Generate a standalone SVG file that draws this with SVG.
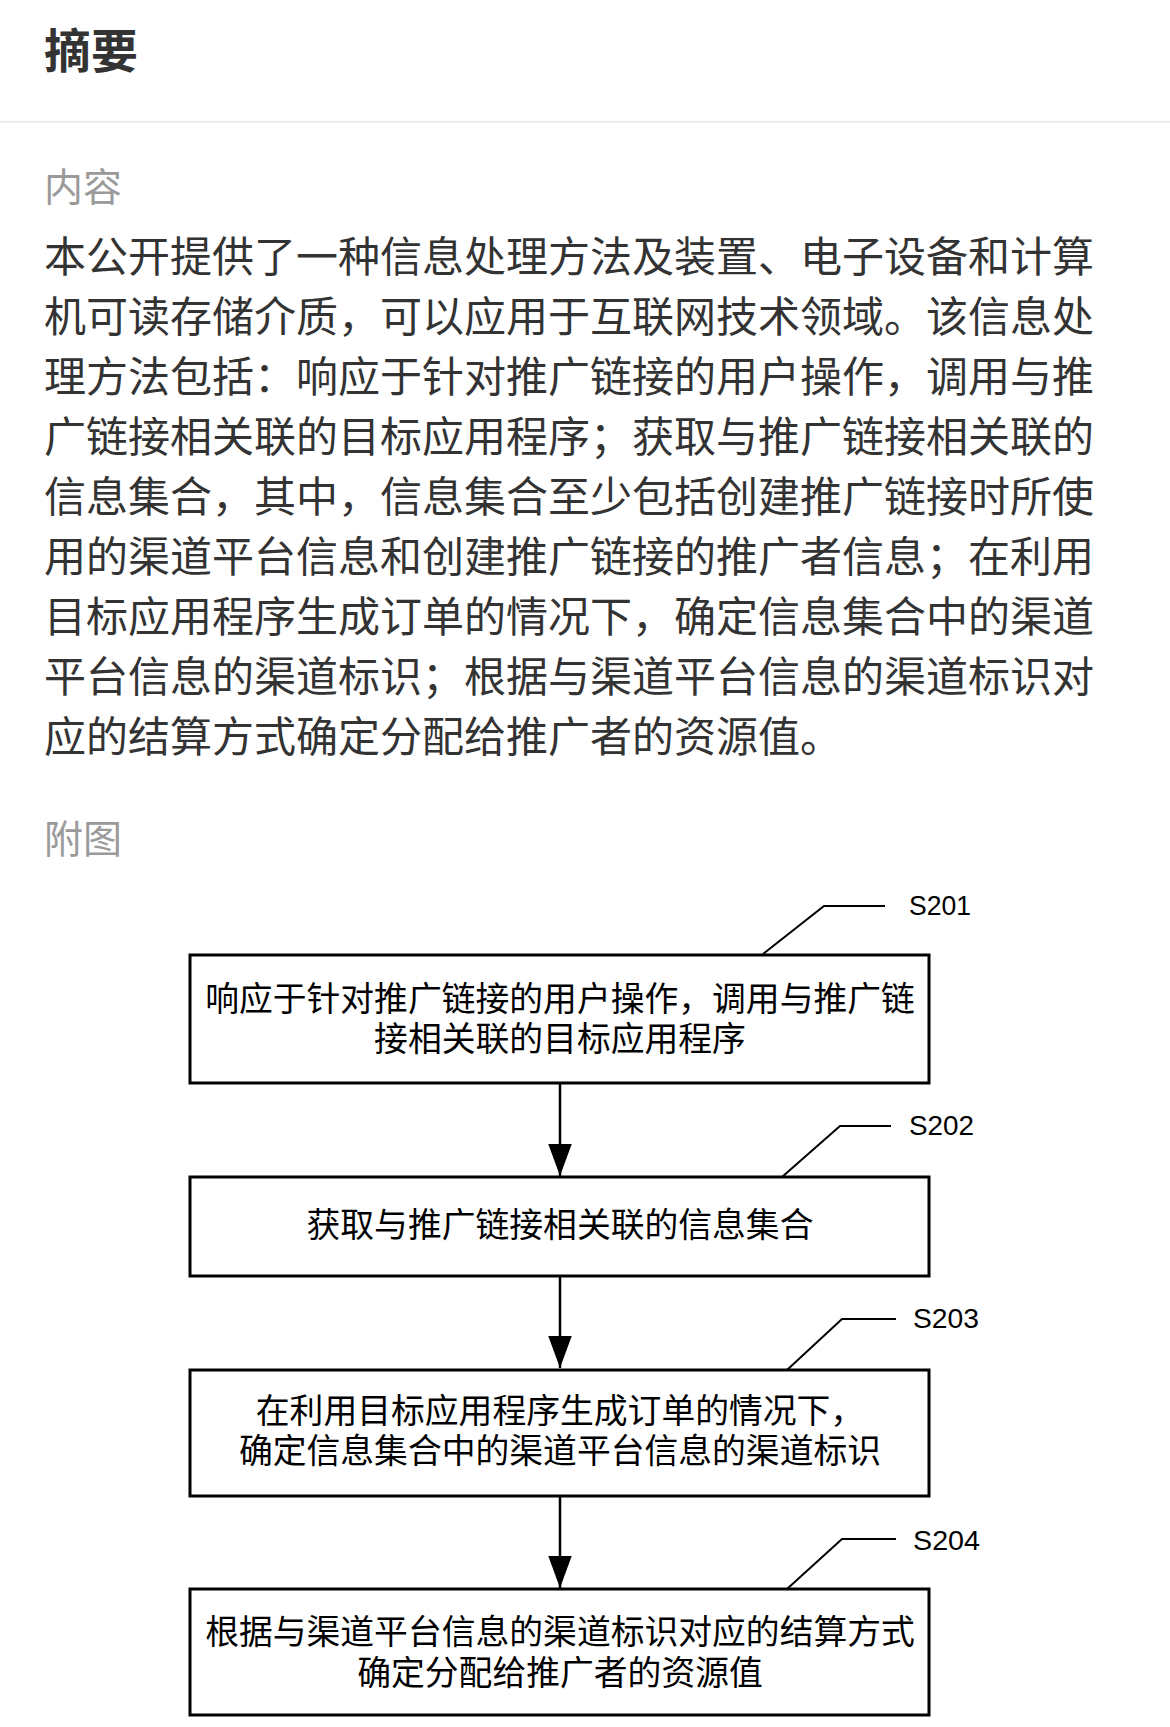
<svg xmlns="http://www.w3.org/2000/svg" width="1170" height="1727" viewBox="0 0 1170 1727">
<defs>
<style>
.h{font-family:"Noto Sans CJK SC","Noto Sans",sans-serif;font-size:47px;font-weight:bold;fill:#333}
.sec{font-family:"Noto Sans CJK SC","Noto Sans",sans-serif;font-size:39px;fill:#9a9a9a}
.body{font-family:"Noto Sans CJK SC","Noto Sans",sans-serif;font-size:42px;fill:#333}
.box{fill:#fff;stroke:#000;stroke-width:3}
.bt{font-family:"Noto Sans CJK SC","Noto Sans",sans-serif;font-size:33.8px;fill:#000;text-anchor:middle}
.lbl{font-family:"Liberation Sans",Arial,sans-serif;font-size:28px;fill:#000}
.lead{fill:none;stroke:#000;stroke-width:2}
.conn{stroke:#000;stroke-width:2.5}
</style>
<marker id="arr" markerUnits="userSpaceOnUse" markerWidth="32" markerHeight="24" refX="30" refY="11" orient="auto" viewBox="0 0 30 22">
<path d="M0,0 L30,11 L0,22 Z" fill="#000"/>
</marker>
</defs>
<rect x="0" y="0" width="1170" height="1727" fill="#fff"/>
<g id="header">
<text class="h" x="44" y="68">摘要</text>
<rect x="0" y="121" width="1170" height="1.5" fill="#e6e6e6"/>
<text class="sec" x="44" y="201">内容</text>
</g>
<g id="abstract">
<text class="body" x="44" y="272">本公开提供了一种信息处理方法及装置、电子设备和计算</text>
<text class="body" x="44" y="332">机可读存储介质，可以应用于互联网技术领域。该信息处</text>
<text class="body" x="44" y="392">理方法包括：响应于针对推广链接的用户操作，调用与推</text>
<text class="body" x="44" y="452">广链接相关联的目标应用程序；获取与推广链接相关联的</text>
<text class="body" x="44" y="512">信息集合，其中，信息集合至少包括创建推广链接时所使</text>
<text class="body" x="44" y="572">用的渠道平台信息和创建推广链接的推广者信息；在利用</text>
<text class="body" x="44" y="632">目标应用程序生成订单的情况下，确定信息集合中的渠道</text>
<text class="body" x="44" y="692">平台信息的渠道标识；根据与渠道平台信息的渠道标识对</text>
<text class="body" x="44" y="752">应的结算方式确定分配给推广者的资源值。</text>
</g>
<g id="fig-title">
<text class="sec" x="44" y="853">附图</text>
</g>
<g id="connectors">
<line class="conn" x1="560" y1="1083" x2="560" y2="1176" marker-end="url(#arr)"/>
<line class="conn" x1="560" y1="1276" x2="560" y2="1368" marker-end="url(#arr)"/>
<line class="conn" x1="560" y1="1496" x2="560" y2="1588" marker-end="url(#arr)"/>
<polyline class="lead" points="763,954 824,906 885,906"/>
<polyline class="lead" points="782,1177 840,1126 891,1126"/>
<polyline class="lead" points="787,1370 842,1319 896,1319"/>
<polyline class="lead" points="787,1589 842,1539 896,1539"/>
</g>
<g id="S201">
<rect class="box" x="190" y="955" width="739" height="128"/>
<text class="bt"><tspan x="560" y="1011">响应于针对推广链接的用户操作，调用与推广链</tspan><tspan x="560" y="1051">接相关联的目标应用程序</tspan></text>
<text class="lbl" x="909" y="915" textLength="62" lengthAdjust="spacingAndGlyphs">S201</text>
</g>
<g id="S202">
<rect class="box" x="190" y="1177" width="739" height="99"/>
<text class="bt" x="560" y="1237">获取与推广链接相关联的信息集合</text>
<text class="lbl" x="909" y="1135" textLength="65" lengthAdjust="spacingAndGlyphs">S202</text>
</g>
<g id="S203">
<rect class="box" x="190" y="1370" width="739" height="126"/>
<text class="bt"><tspan x="560" y="1423">在利用目标应用程序生成订单的情况下，</tspan><tspan x="560" y="1463">确定信息集合中的渠道平台信息的渠道标识</tspan></text>
<text class="lbl" x="913" y="1328" textLength="66" lengthAdjust="spacingAndGlyphs">S203</text>
</g>
<g id="S204">
<rect class="box" x="190" y="1589" width="739" height="126"/>
<text class="bt"><tspan x="560" y="1644">根据与渠道平台信息的渠道标识对应的结算方式</tspan><tspan x="560" y="1685">确定分配给推广者的资源值</tspan></text>
<text class="lbl" x="913" y="1550" textLength="67" lengthAdjust="spacingAndGlyphs">S204</text>
</g>
</svg>
